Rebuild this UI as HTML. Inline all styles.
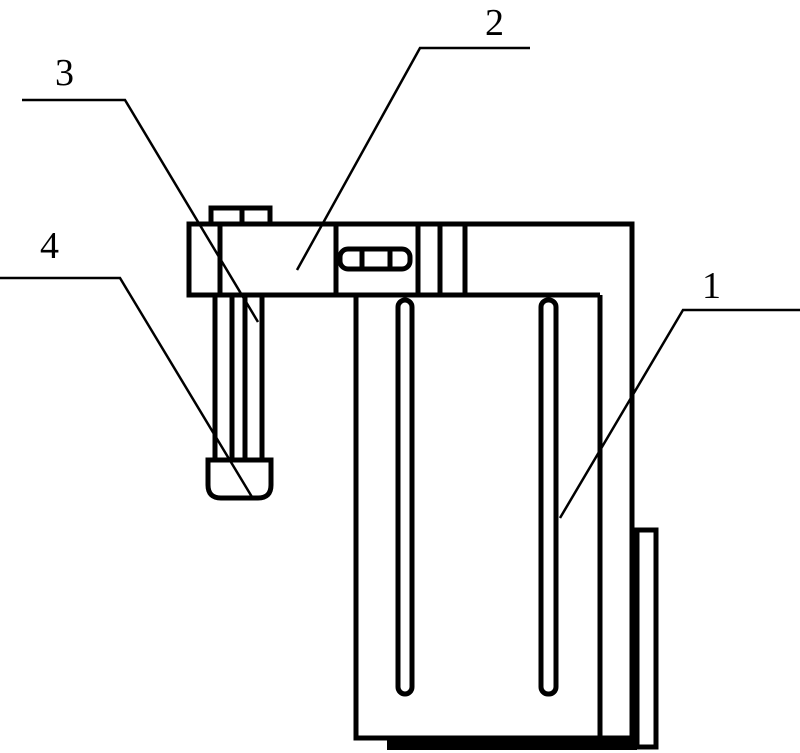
<!DOCTYPE html>
<html><head><style>html,body{margin:0;padding:0;background:#fff}svg{display:block}</style></head>
<body>
<svg width="800" height="753" viewBox="0 0 800 753" xmlns="http://www.w3.org/2000/svg">
<g fill="none" stroke="#000" stroke-width="5">
<!-- arm + body outline -->
<path d="M189 295 V224 H632 V738 H356 V295 Z"/>
<line x1="356" y1="295" x2="600" y2="295"/>
<line x1="600" y1="295" x2="600" y2="738"/>
<line x1="220" y1="224" x2="220" y2="295"/>
<line x1="336" y1="224" x2="336" y2="295"/>
<line x1="418" y1="224" x2="418" y2="295"/>
<line x1="440" y1="224" x2="440" y2="295"/>
<line x1="465" y1="224" x2="465" y2="295"/>
<!-- top cap -->
<path d="M211 222 V208 H270 V222"/>
<line x1="242" y1="208" x2="242" y2="222"/>
<!-- slot -->
<rect x="340" y="249" width="70" height="20" rx="8"/>
<line x1="362" y1="250" x2="362" y2="268"/>
<line x1="390" y1="250" x2="390" y2="268"/>
<!-- hanging rod -->
<line x1="215" y1="295" x2="215" y2="458"/>
<line x1="232" y1="295" x2="232" y2="458"/>
<line x1="245" y1="295" x2="245" y2="458"/>
<line x1="262" y1="295" x2="262" y2="458"/>
<path d="M208 460 H271 V485 Q271 498 258 498 H221 Q208 498 208 485 Z"/>
<!-- rods -->
<rect x="398" y="300" width="14" height="394" rx="7"/>
<rect x="541" y="300" width="15" height="394" rx="7"/>
<!-- right small rect -->
<rect x="637" y="530" width="19" height="217"/>
</g>
<rect x="387" y="737" width="250" height="13" fill="#000"/>
<g stroke="#000" stroke-width="2.5" fill="none">
<polyline points="22,100 125,100 258,322"/>
<polyline points="530,48 420,48 297,270"/>
<polyline points="0,278 120,278 252,497"/>
<polyline points="800,310 683,310 560,518"/>
</g>
<g font-family="Liberation Serif, serif" font-size="38" fill="#000">
<text x="55" y="85">3</text>
<text x="485" y="35">2</text>
<text x="40" y="258">4</text>
<text x="702" y="298">1</text>
</g>
</svg>
</body></html>
